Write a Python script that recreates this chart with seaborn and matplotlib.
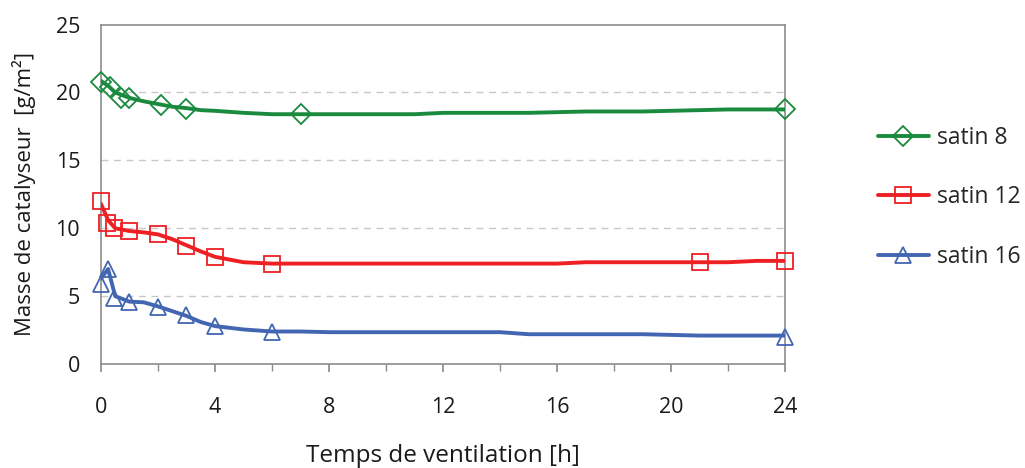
import numpy as np
import pandas as pd
import matplotlib
matplotlib.use('Agg')
import matplotlib.pyplot as plt
from matplotlib.lines import Line2D
from matplotlib.ticker import MultipleLocator
import seaborn as sns

# Courbes
time_line = [0, 0.25, 0.5, 1, 1.5, 2, 2.5, 3, 3.5, 4, 5, 6, 7, 8, 9, 10, 11, 12,
             13, 14, 15, 16, 17, 18, 19, 20, 21, 22, 23, 24]
satin8_line = [20.85, 20.5, 20.0, 19.6, 19.35, 19.15, 18.95, 18.85, 18.7, 18.65, 18.5, 18.4,
               18.4, 18.4, 18.4, 18.4, 18.4, 18.5, 18.5, 18.5, 18.5, 18.55, 18.6, 18.6,
               18.6, 18.65, 18.7, 18.75, 18.75, 18.75]
satin12_line = [11.8, 10.6, 10.0, 9.8, 9.7, 9.55, 9.2, 8.75, 8.3, 7.9, 7.5, 7.4,
                7.4, 7.4, 7.4, 7.4, 7.4, 7.4, 7.4, 7.4, 7.4, 7.4, 7.5, 7.5,
                7.5, 7.5, 7.5, 7.5, 7.6, 7.6]
satin16_line = [6.3, 7.0, 5.0, 4.6, 4.55, 4.25, 3.9, 3.55, 3.1, 2.8, 2.55, 2.4,
                2.4, 2.35, 2.35, 2.35, 2.35, 2.35, 2.35, 2.35, 2.2, 2.2, 2.2, 2.2,
                2.2, 2.15, 2.1, 2.1, 2.1, 2.1]

# Points mesures
satin8_t = [0, 0.33, 0.7, 1.0, 2.1, 3.0, 7.0, 24]
satin8_m = [20.8, 20.4, 19.6, 19.6, 19.1, 18.8, 18.4, 18.8]
satin12_t = [0, 0.2, 0.45, 1.0, 2.0, 3.0, 4.0, 6.0, 21.0, 24]
satin12_m = [12.0, 10.4, 10.0, 9.8, 9.6, 8.7, 7.9, 7.4, 7.5, 7.6]
satin16_t = [0, 0.25, 0.45, 1.0, 2.0, 3.0, 4.0, 6.0, 24]
satin16_m = [5.9, 7.0, 4.9, 4.6, 4.2, 3.6, 2.8, 2.35, 2.0]

labels = ['satin 8', 'satin 12', 'satin 16']
colors = ['#1A8A3E', '#EE2024', '#4366B2']
markers = ['D', 's', '^']
msizes = [10, 11, 12]

sns.set_theme(style='white')
plt.rcParams['font.family'] = ['Open Sans', 'DejaVu Sans']

fig = plt.figure(figsize=(10.25, 4.68), dpi=100)
ax = fig.add_axes([0.0985, 0.222, 0.6675, 0.7255])

lines = [satin8_line, satin12_line, satin16_line]
pts = [(satin8_t, satin8_m), (satin12_t, satin12_m), (satin16_t, satin16_m)]

for lab, col, mk, ms, yl, (pt, pm) in zip(labels, colors, markers, msizes, lines, pts):
    df = pd.DataFrame({'t': time_line, 'm': yl})
    sns.lineplot(data=df, x='t', y='m', ax=ax, color=col, lw=2.8, zorder=3)
    ax.plot(pt, pm, linestyle='none', marker=mk, markersize=ms, markerfacecolor='none',
            markeredgecolor=col, markeredgewidth=1.3, zorder=4, clip_on=False)

ax.set_xlim(0, 24)
ax.set_ylim(0, 25)
ax.xaxis.set_major_locator(MultipleLocator(4))
ax.xaxis.set_minor_locator(MultipleLocator(2))
ax.yaxis.set_major_locator(MultipleLocator(5))
for yv in [5, 10, 15, 20]:
    ax.axhline(yv, color='#C8C8C8', lw=1, ls=(0, (5, 4)), zorder=1)

for s in ax.spines.values():
    s.set_color('#8C8C8C')
    s.set_linewidth(1.2)

ax.tick_params(axis='x', which='major', length=6, color='#8C8C8C', direction='out',
               pad=18, labelsize=15.5, labelcolor='#1a1a1a', bottom=True)
ax.tick_params(axis='x', which='minor', length=5, color='#8C8C8C', direction='out', bottom=True)
ax.tick_params(axis='y', length=0, pad=15, labelsize=15.5, labelcolor='#1a1a1a')

ax.set_xlabel('Temps de ventilation [h]', fontsize=17.5, labelpad=18.5, color='#1a1a1a')
ax.set_ylabel('Masse de catalyseur  [g/m²]', fontsize=16, labelpad=14, color='#1a1a1a')

handles = [Line2D([0], [0], color=c, lw=2.8, marker=m, markersize=ms, markerfacecolor='none',
                  markeredgecolor=c, markeredgewidth=1.3)
           for c, m, ms in zip(colors, markers, msizes)]
fig.legend(handles, labels, loc='center left', bbox_to_anchor=(0.836, 0.578), frameon=False,
           fontsize=16.5, handlelength=2.25, labelspacing=1.55, handletextpad=0.35)

fig.savefig('out.png', dpi=100)
